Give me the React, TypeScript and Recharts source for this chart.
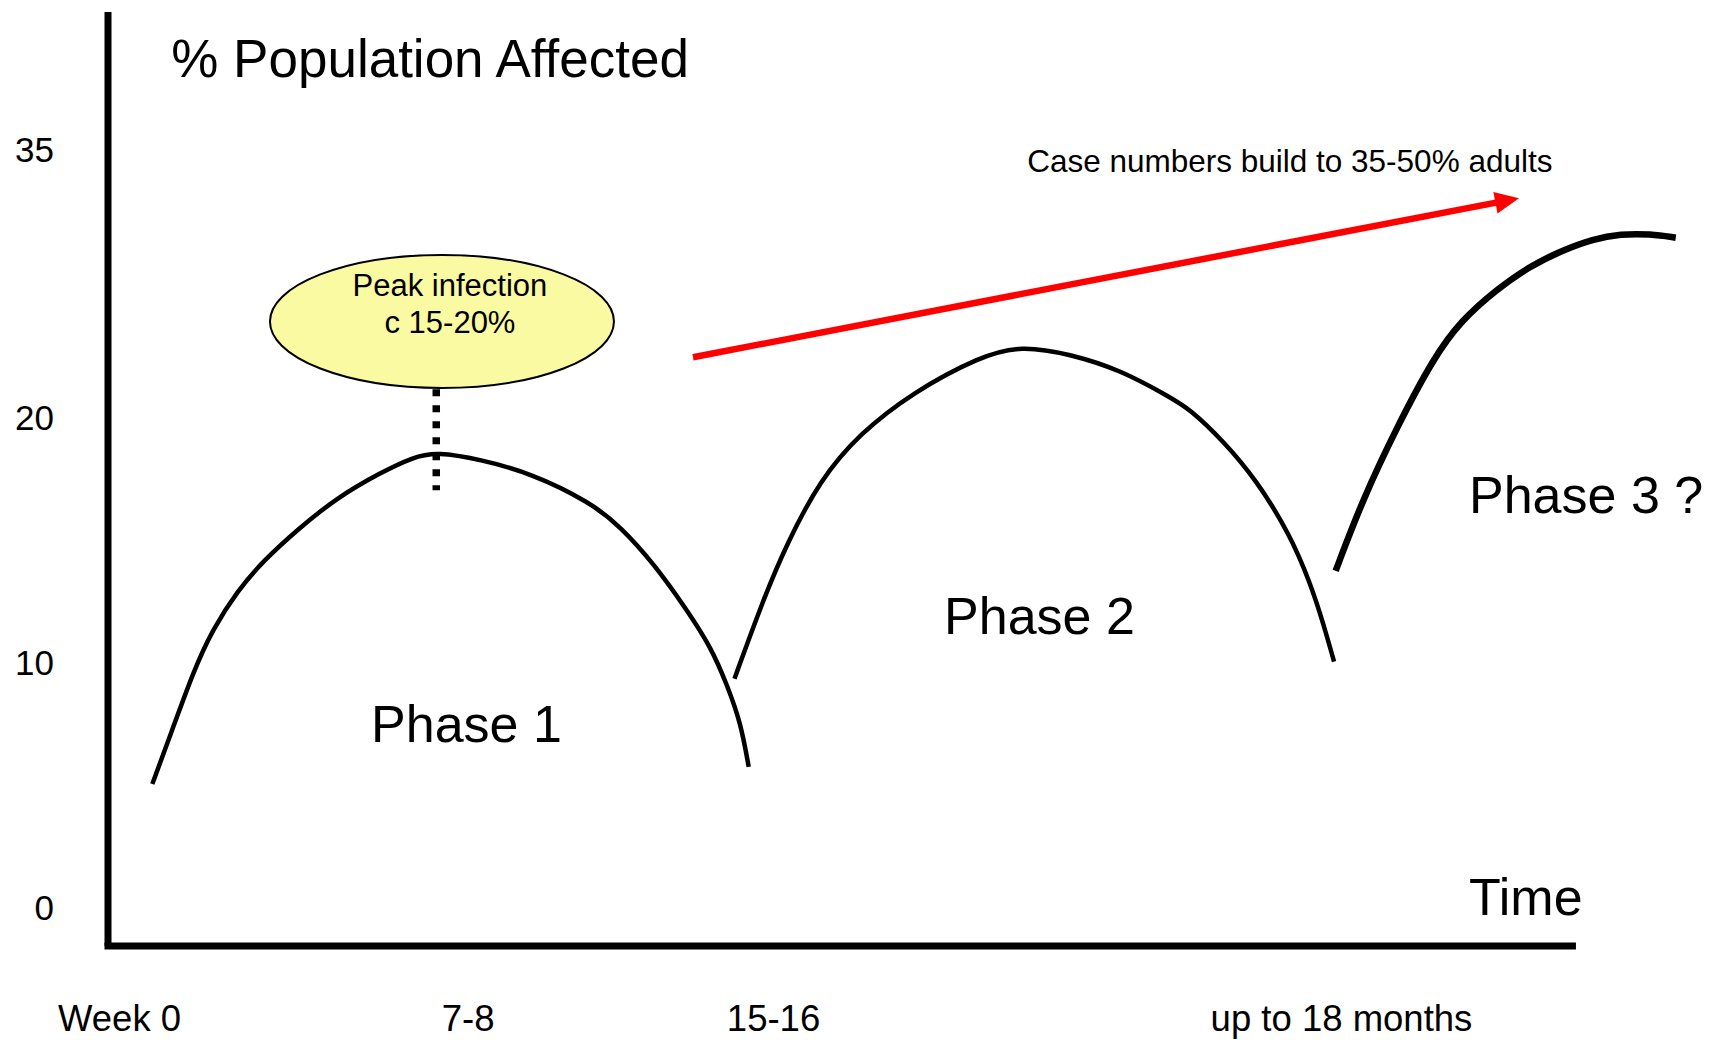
import React from 'react';
import { LineChart, Line, XAxis, YAxis, ReferenceLine, ReferenceDot } from 'recharts';

// ---- data ----
const phase1 = [
  { x: 2.8, y: 5.0 }, { x: 4.0, y: 7.1 }, { x: 5.4, y: 9.6 }, { x: 6.6, y: 11.3 },
  { x: 8.2, y: 12.9 }, { x: 9.8, y: 14.1 }, { x: 12.0, y: 15.4 }, { x: 14.5, y: 16.7 },
  { x: 17.2, y: 17.7 }, { x: 19.3, y: 18.35 }, { x: 20.8, y: 18.55 }, { x: 23.5, y: 18.25 },
  { x: 26.7, y: 17.7 }, { x: 30.5, y: 16.5 }, { x: 32.4, y: 15.5 }, { x: 34.5, y: 14.0 },
  { x: 36.6, y: 12.1 }, { x: 38.1, y: 10.6 }, { x: 39.1, y: 9.1 }, { x: 40.0, y: 7.5 },
  { x: 40.5, y: 5.7 },
];

const phase2 = [
  { x: 39.6, y: 9.3 }, { x: 41.4, y: 12.5 }, { x: 42.9, y: 14.8 }, { x: 45.0, y: 17.4 },
  { x: 47.5, y: 19.3 }, { x: 50.9, y: 21.0 }, { x: 55.1, y: 22.45 }, { x: 57.7, y: 22.9 },
  { x: 60.8, y: 22.55 }, { x: 64.0, y: 21.9 }, { x: 67.1, y: 20.8 }, { x: 68.4, y: 20.3 },
  { x: 70.5, y: 19.0 }, { x: 72.6, y: 17.4 }, { x: 74.7, y: 15.2 }, { x: 76.0, y: 13.2 },
  { x: 76.8, y: 11.6 }, { x: 77.5, y: 10.0 },
];

const phase3 = [
  { x: 77.6, y: 13.7 }, { x: 79.3, y: 16.6 }, { x: 81.5, y: 19.6 }, { x: 83.8, y: 22.4 },
  { x: 85.5, y: 23.9 }, { x: 87.8, y: 25.2 }, { x: 89.8, y: 26.1 }, { x: 91.8, y: 26.75 },
  { x: 93.9, y: 27.25 }, { x: 95.6, y: 27.45 }, { x: 97.5, y: 27.45 }, { x: 99.1, y: 27.3 },
];

const xTickValues = [0.73, 22.76, 42.07, 77.97];
const xTickLabels = ['Week 0', '7-8', '15-16', 'up to 18 months'];
const yTickValues = [0, 10, 20, 30.9];
const yTickLabels = ['0', '10', '20', '35'];

const trendArrow = [
  { x: 36.98, y: 22.42 },
  { x: 89.19, y: 28.91 },
];
const peakMarker = [
  { x: 20.75, y: 21.11 },
  { x: 20.75, y: 16.99 },
];

const titleText = '% Population Affected';
const axisTitle = 'Time';
const phaseLabels = ['Phase 1', 'Phase 2', 'Phase 3 ?'];
const trendText = 'Case numbers build to 35-50% adults';
const peakNote = ['Peak infection', 'c 15-20%'];

// ---- styling ----
const FONT = "'Liberation Sans', Arial, Helvetica, sans-serif";

const YTick = (props: any) => {
  const { x, y, payload } = props;
  const i = yTickValues.indexOf(payload.value);
  return (
    <text x={x} y={y} dy={13} textAnchor="end" fontSize={35} fontFamily={FONT} fill="#000">
      {yTickLabels[i]}
    </text>
  );
};

const XTick = (props: any) => {
  const { x, y, payload } = props;
  const i = xTickValues.indexOf(payload.value);
  return (
    <text x={x} y={y} textAnchor="middle" fontSize={36.5} fontFamily={FONT} fill="#000">
      {xTickLabels[i]}
    </text>
  );
};

const textShape = (text: string, size: number, anchor: string) => (p: any) => (
  <text x={p.cx} y={p.cy} textAnchor={anchor} fontSize={size} fontFamily={FONT} fill="#000">
    {text}
  </text>
);

const ellipseShape = (p: any) => (
  <g>
    <ellipse cx={p.cx} cy={p.cy} rx={172} ry={66.5} fill="#FAFAA3" stroke="#000" strokeWidth={2} />
    <text x={p.cx + 8} y={p.cy - 25.5} textAnchor="middle" fontSize={31} fontFamily={FONT} fill="#000">
      {peakNote[0]}
    </text>
    <text x={p.cx + 8} y={p.cy + 11.5} textAnchor="middle" fontSize={31} fontFamily={FONT} fill="#000">
      {peakNote[1]}
    </text>
  </g>
);

const arrowShape = (p: any) => {
  const { x1, y1, x2, y2 } = p;
  const dx = x2 - x1;
  const dy = y2 - y1;
  const len = Math.hypot(dx, dy) || 1;
  const ux = dx / len;
  const uy = dy / len;
  const head = 24;
  const half = 11;
  const bx = x2 - ux * head;
  const by = y2 - uy * head;
  const nx = -uy;
  const ny = ux;
  return (
    <g>
      <line x1={x1} y1={y1} x2={bx + ux * 2} y2={by + uy * 2} stroke="#FF0000" strokeWidth={6.5} />
      <polygon
        points={`${x2},${y2} ${bx + nx * half},${by + ny * half} ${bx - nx * half},${by - ny * half}`}
        fill="#FF0000"
      />
    </g>
  );
};

export default function App() {
  return (
    <div style={{ position: 'absolute', left: 0, top: 0, width: 1709, height: 1040, background: '#fff' }}>
      <LineChart width={1709} height={1040} margin={{ top: 12, right: 19, bottom: 0, left: 0 }}>
        <XAxis
          type="number"
          dataKey="x"
          domain={[0, 100]}
          ticks={xTickValues}
          interval={0}
          tick={<XTick />}
          tickLine={false}
          tickSize={0}
          tickMargin={85}
          axisLine={false}
          height={94}
        />
        <YAxis
          type="number"
          dataKey="y"
          domain={[-1.61, 36.51]}
          ticks={yTickValues}
          interval={0}
          tick={<YTick />}
          tickLine={false}
          tickSize={0}
          tickMargin={54}
          axisLine={{ stroke: '#000', strokeWidth: 7 }}
          width={108}
        />
        {/* x-axis baseline (ends before the plot's right edge, as in the reference) */}
        <ReferenceLine
          segment={[{ x: 0, y: -1.61 }, { x: 92.57, y: -1.61 }]}
          stroke="#000"
          strokeWidth={7}
          strokeLinecap="square"
          ifOverflow="visible"
        />
        <Line data={phase1} dataKey="y" type="basis" stroke="#000" strokeWidth={4.5} dot={false} activeDot={false} isAnimationActive={false} />
        <Line data={phase2} dataKey="y" type="basis" stroke="#000" strokeWidth={4.5} dot={false} activeDot={false} isAnimationActive={false} />
        <Line data={phase3} dataKey="y" type="basis" stroke="#000" strokeWidth={6.5} dot={false} activeDot={false} isAnimationActive={false} />
        <ReferenceLine
          segment={peakMarker}
          stroke="#000"
          strokeWidth={7.5}
          strokeDasharray="7 9"
          ifOverflow="visible"
        />
        <ReferenceLine segment={trendArrow} shape={arrowShape} ifOverflow="visible" />
        <ReferenceDot x={21.11} y={23.88} shape={ellipseShape} ifOverflow="visible" />
        <ReferenceDot x={4.0} y={33.86} shape={textShape(titleText, 53, 'start')} ifOverflow="visible" />
        <ReferenceDot x={58.1} y={29.98} shape={textShape(trendText, 31.5, 'start')} ifOverflow="visible" />
        <ReferenceDot x={22.66} y={6.71} shape={textShape(phaseLabels[0], 52, 'middle')} ifOverflow="visible" />
        <ReferenceDot x={58.88} y={11.12} shape={textShape(phaseLabels[1], 52, 'middle')} ifOverflow="visible" />
        <ReferenceDot x={86.03} y={16.06} shape={textShape(phaseLabels[2], 52, 'start')} ifOverflow="visible" />
        <ReferenceDot x={86.03} y={-0.35} shape={textShape(axisTitle, 52, 'start')} ifOverflow="visible" />
      </LineChart>
    </div>
  );
}
